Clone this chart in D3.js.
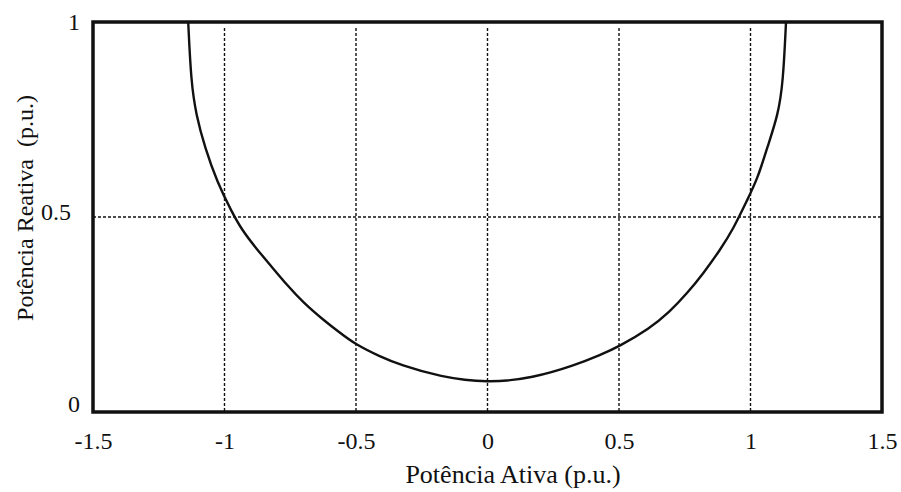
<!DOCTYPE html>
<html>
<head>
<meta charset="utf-8">
<script src="https://cdn.jsdelivr.net/npm/d3@7"></script>
<style>
  body { margin: 0; background: #fff; }
  text { font-family: "Liberation Serif", "Times New Roman", serif; fill: #111; }
</style>
</head>
<body>
<svg id="chart" width="901" height="492"></svg>
<script>
// curve points (P, Q)
const activePower = [-1.138, -1.127, -1.108, -1.074, -1.028, -0.973, -0.935, -0.878, -0.821, -0.763, -0.700, -0.624, -0.561, -0.504, -0.409, -0.333, -0.181, 0.0, 0.173, 0.333, 0.428, 0.498, 0.618, 0.690, 0.760, 0.820, 0.884, 0.935, 0.985, 1.028, 1.063, 1.105, 1.124, 1.135];
const reactivePower = [1.0, 0.846, 0.762, 0.677, 0.590, 0.514, 0.468, 0.418, 0.373, 0.326, 0.280, 0.236, 0.203, 0.174, 0.142, 0.121, 0.090, 0.074, 0.087, 0.120, 0.146, 0.167, 0.215, 0.255, 0.305, 0.355, 0.415, 0.470, 0.540, 0.600, 0.677, 0.762, 0.846, 1.0];

const xTicks = [-1.5, -1, -0.5, 0, 0.5, 1, 1.5];
const yTicks = [0, 0.5, 1];
const xGrid = [-1, -0.5, 0, 0.5, 1];
const yGrid = [0.5];

const margin = { top: 22, right: 19, bottom: 80, left: 93 };
const width = 901 - margin.left - margin.right;
const height = 492 - margin.top - margin.bottom;

const x = d3.scaleLinear().domain([-1.5, 1.5]).range([0, width]);
const y = d3.scaleLinear().domain([0, 1]).range([height, 0]);

const svg = d3.select("#chart")
  .append("g")
  .attr("transform", "translate(" + margin.left + "," + margin.top + ")");

// dotted grid
svg.selectAll(".vgrid")
  .data(xGrid)
  .enter().append("line")
  .attr("x1", d => x(d)).attr("x2", d => x(d))
  .attr("y1", 6).attr("y2", height)
  .attr("stroke", "#111").attr("stroke-width", 1.4)
  .attr("stroke-dasharray", "3,2");

svg.selectAll(".hgrid")
  .data(yGrid)
  .enter().append("line")
  .attr("x1", 0).attr("x2", width)
  .attr("y1", d => y(d)).attr("y2", d => y(d))
  .attr("stroke", "#111").attr("stroke-width", 1.4)
  .attr("stroke-dasharray", "3,2");

// capability curve
const pts = activePower.map((p, i) => [p, reactivePower[i]]);
const line = d3.line()
  .x(d => x(d[0]))
  .y(d => y(d[1]))
  .curve(d3.curveBasis);

svg.append("path")
  .datum(pts)
  .attr("d", line)
  .attr("fill", "none")
  .attr("stroke", "#111")
  .attr("stroke-width", 2.4);

// frame
svg.append("rect")
  .attr("x", 0).attr("y", 0)
  .attr("width", width).attr("height", height)
  .attr("fill", "none")
  .attr("stroke", "#111")
  .attr("stroke-width", 3.5);

// x axis
const xAxis = svg.append("g")
  .attr("transform", "translate(0," + height + ")")
  .call(d3.axisBottom(x).tickValues(xTicks).tickSize(0).tickPadding(20).tickFormat(d => String(d)));
xAxis.select(".domain").remove();
xAxis.selectAll("text")
  .style("font-family", "'Liberation Serif', serif")
  .style("font-size", "24px")
  .attr("fill", "#111");

// y axis
const yAxis = svg.append("g")
  .call(d3.axisLeft(y).tickValues(yTicks).tickSize(0).tickPadding(13).tickFormat(d => String(d)));
yAxis.select(".domain").remove();
yAxis.selectAll("text")
  .style("font-family", "'Liberation Serif', serif")
  .style("font-size", "24px")
  .attr("fill", "#111")
  .attr("x", d => d === 0.5 ? -22 : -13)
  .attr("dy", d => d === 0 ? "-0.02em" : d === 0.5 ? "0.12em" : "0.33em");

// axis titles
svg.append("text")
  .attr("x", 513 - margin.left)
  .attr("y", height + 71)
  .attr("text-anchor", "middle")
  .style("font-size", "26px")
  .text("Potência Ativa (p.u.)");

svg.append("text")
  .attr("transform", "translate(" + (33 - margin.left) + "," + (208 - margin.top) + ") rotate(-90)")
  .attr("text-anchor", "middle")
  .style("font-size", "24px")
  .style("white-space", "pre")
  .text("Potência Reativa  (p.u.)");
</script>
</body>
</html>
